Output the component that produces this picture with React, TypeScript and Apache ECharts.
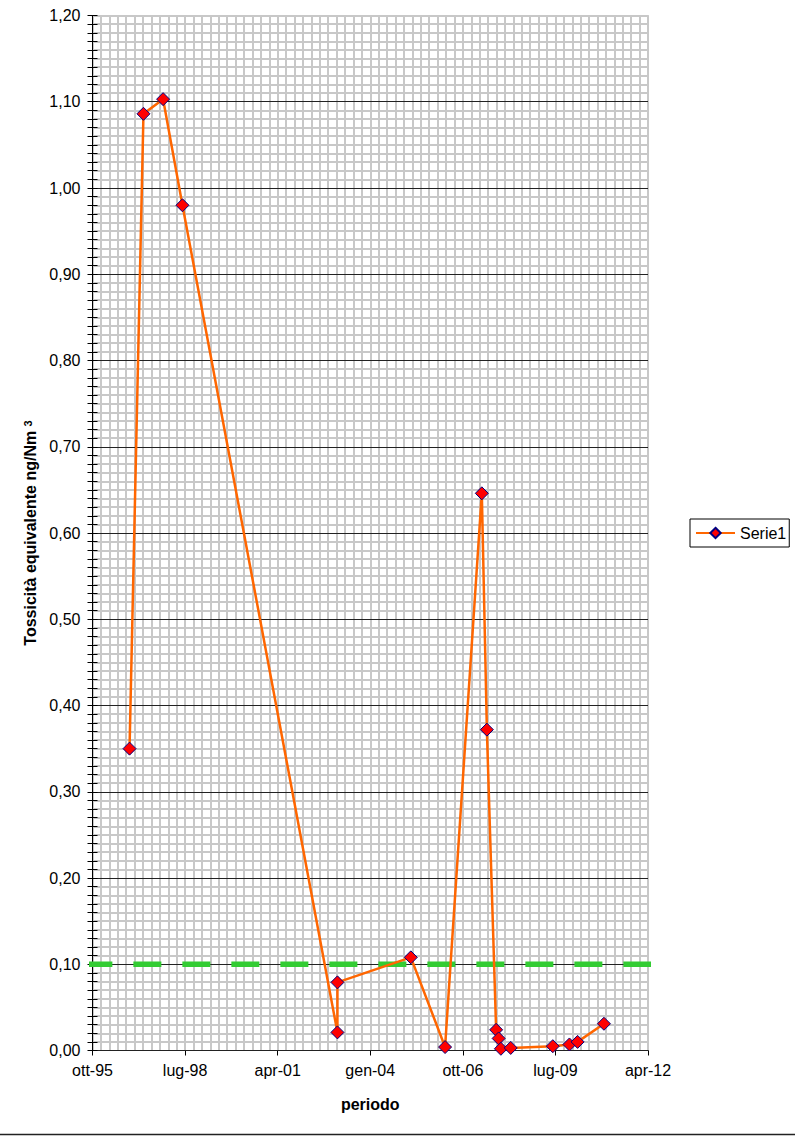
import React, { useEffect, useRef } from "react";
import * as echarts from "echarts";

// Sampling dates and toxicity equivalent values (ng/Nm3)
const sampleDates: string[] = [
  "1996-11-07", "1997-04-06", "1997-11-06", "1998-06-03",
  "2003-01-10", "2003-01-10", "2005-03-15", "2006-03-21",
  "2007-04-24", "2007-06-18", "2007-09-27", "2007-10-24",
  "2007-11-18", "2008-03-03", "2009-06-03", "2009-12-01",
  "2010-02-28", "2010-12-10",
];
const sampleValues: number[] = [
  0.350, 1.086, 1.103, 0.980,
  0.021, 0.079, 0.108, 0.004,
  0.646, 0.372, 0.024, 0.014,
  0.002, 0.003, 0.005, 0.007,
  0.010, 0.031,
];

// Limit value line (0,10) and the months it spans (relative to ott-95)
const limitValue = 0.1;
const limitSpan: number[] = [-2.9, 200.5];

// x axis: months from October 1995, ticks every 33 months
const xTickLabels: string[] = ["ott-95", "lug-98", "apr-01", "gen-04", "ott-06", "lug-09", "apr-12"];
const xTickStep = 33;
// y axis ticks
const yMin = 0;
const yMax = 1.2;
const yStep = 0.1;

const FONT = "'Liberation Sans', Arial, sans-serif";

function toMonths(d: string): number {
  const [y, m, day] = d.split("-").map(Number);
  return (y - 1995) * 12 + (m - 10) + (day - 1) / 30;
}

export default function App() {
  const ref = useRef<HTMLDivElement>(null);

  useEffect(() => {
    document.body.style.margin = "0";
    const chart = echarts.init(ref.current!, undefined, { renderer: "svg" });
    const xMax = xTickStep * (xTickLabels.length - 1);
    const mainData = sampleDates.map((d, i) => [toMonths(d), sampleValues[i]]);
    const limitData = limitSpan.map((m) => [m, limitValue]);
    const gridGray = "#c8c8c8";

    chart.setOption({
      animation: false,
      backgroundColor: "#ffffff",
      textStyle: { fontFamily: FONT },
      grid: { left: 92.5, right: 147, top: 15.5, bottom: 85.5, containLabel: false },
      legend: {
        orient: "vertical",
        left: 690,
        top: 519,
        padding: [6, 3, 6, 5],
        borderColor: "#000000",
        borderWidth: 1,
        itemWidth: 39,
        itemHeight: 13,
        data: ["Serie1"],
        textStyle: { fontFamily: FONT, fontSize: 16, color: "#000000" },
      },
      xAxis: [
        {
          type: "value",
          z: 0,
          min: 0,
          max: xMax,
          interval: xTickStep,
          name: "periodo",
          nameLocation: "middle",
          nameGap: 46,
          nameTextStyle: { fontFamily: FONT, fontSize: 16, fontWeight: "bold", color: "#000" },
          axisLine: { show: true, onZero: false, lineStyle: { color: "#000", width: 1 } },
          axisTick: { show: true, length: 5, lineStyle: { color: "#000" } },
          axisLabel: {
            margin: 12,
            fontFamily: FONT,
            fontSize: 16,
            color: "#000",
            formatter: (v: number) => xTickLabels[Math.round(v / xTickStep)] ?? "",
          },
          splitLine: { show: true, lineStyle: { color: gridGray, width: 2 } },
          minorTick: { show: false, splitNumber: 11 },
          minorSplitLine: { show: true, lineStyle: { color: gridGray, width: 2 } },
        },
        {
          type: "value",
          z: 0,
          position: "top",
          min: 0,
          max: xMax,
          interval: xTickStep,
          axisLine: { show: true, onZero: false, lineStyle: { color: gridGray, width: 2 } },
          axisTick: { show: false },
          axisLabel: { show: false },
          splitLine: { show: false },
        },
      ],
      yAxis: [
        {
          type: "value",
          z: 1,
          min: yMin,
          max: yMax,
          interval: yStep,
          name: "{a|Tossicità equivalente ng/Nm }{b|3}",
          nameLocation: "middle",
          nameRotate: 90,
          nameGap: 54,
          nameTextStyle: {
            rich: {
              a: { fontFamily: FONT, fontSize: 16, fontWeight: "bold", color: "#000" },
              b: { fontFamily: FONT, fontSize: 11, fontWeight: "bold", color: "#000", verticalAlign: "top" },
            },
          },
          axisLine: { show: true, onZero: false, lineStyle: { color: "#000", width: 1 } },
          axisTick: { show: true, length: 5, lineStyle: { color: "#000" } },
          minorTick: { show: true, splitNumber: 10, length: 5, lineStyle: { color: "#000" } },
          axisLabel: {
            margin: 12,
            fontFamily: FONT,
            fontSize: 16,
            color: "#000",
            formatter: (v: number) => v.toFixed(2).replace(".", ","),
          },
          splitLine: { show: true, showMaxLine: false, lineStyle: { color: "#222222", width: 1 } },
          minorSplitLine: { show: true, lineStyle: { color: gridGray, width: 2 } },
        },
        {
          type: "value",
          z: 1,
          min: yMin,
          max: yMax,
          interval: yStep,
          position: "left",
          axisLine: { show: false },
          axisTick: { show: true, inside: true, length: 5, lineStyle: { color: "#000" } },
          minorTick: { show: true, splitNumber: 10, length: 5, lineStyle: { color: "#000" } },
          axisLabel: { show: false },
          splitLine: { show: false },
          minorSplitLine: { show: false },
        },
      ],
      series: [
        {
          name: "limite",
          type: "line",
          data: limitData,
          clip: false,
          symbol: "none",
          silent: true,
          z: 2,
          lineStyle: { color: "#33cc33", width: 5.5, type: [28, 21], cap: "butt" },
        },
        {
          name: "Serie1",
          type: "line",
          data: mainData,
          z: 3,
          symbol: "diamond",
          symbolSize: 13,
          lineStyle: { color: "#ff6600", width: 2.5 },
          itemStyle: { color: "#ff0000", borderColor: "#000080", borderWidth: 1 },
        },
      ],
      graphic: [
        {
          type: "line",
          shape: { x1: 0, y1: 1134.5, x2: 795, y2: 1134.5 },
          style: { stroke: "#222222", lineWidth: 1.5 },
        },
      ],
    });

    return () => chart.dispose();
  }, []);

  return <div ref={ref} style={{ width: 795, height: 1136 }} />;
}
